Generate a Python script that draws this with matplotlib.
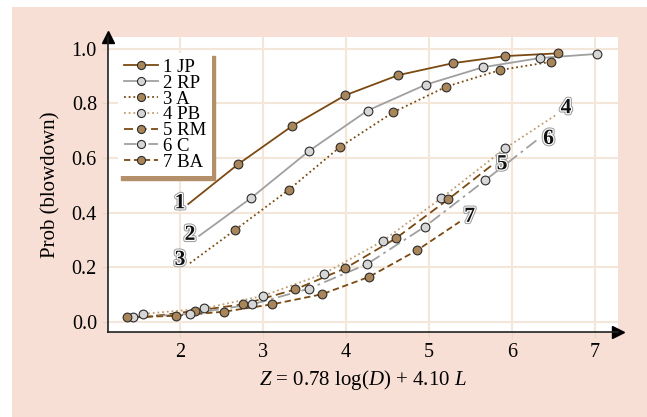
import matplotlib
matplotlib.use("Agg")
import matplotlib.pyplot as plt
import matplotlib.patheffects as pe
from matplotlib.lines import Line2D
from matplotlib.legend_handler import HandlerLine2D
from matplotlib.patches import Rectangle

plt.rcParams['font.family'] = ['Liberation Serif', 'DejaVu Serif']
plt.rcParams['mathtext.fontset'] = 'custom'
plt.rcParams['mathtext.rm'] = 'Liberation Serif'
plt.rcParams['mathtext.it'] = 'Liberation Serif:italic'

# values (Z, prob of blowdown)
# upper curves: first pair is where the fitted line starts (no dot)
jp_z = [2.10, 2.70, 3.35, 3.99, 4.63, 5.29, 5.92, 6.55]
jp_p = [0.431, 0.577, 0.717, 0.830, 0.904, 0.948, 0.974, 0.984]
rp_z = [2.23, 2.86, 3.56, 4.26, 4.96, 5.65, 6.34, 7.03]
rp_p = [0.314, 0.454, 0.627, 0.774, 0.869, 0.933, 0.967, 0.982]
a_z = [2.12, 2.66, 3.31, 3.93, 4.57, 5.21, 5.86, 6.47]
a_p = [0.214, 0.335, 0.483, 0.641, 0.768, 0.862, 0.923, 0.953]
# lower curves: last pair is where the fitted line ends (no dot)
pb_z = [1.56, 2.29, 3.00, 3.73, 4.44, 5.15, 5.92, 6.53]
pb_p = [0.028, 0.048, 0.094, 0.175, 0.295, 0.453, 0.636, 0.758]
rm_z = [1.55, 2.18, 2.76, 3.39, 3.99, 4.60, 5.23, 5.76]
rm_p = [0.015, 0.039, 0.063, 0.118, 0.195, 0.305, 0.448, 0.574]
c_z = [1.44, 2.12, 2.87, 3.55, 4.25, 4.95, 5.68, 6.30]
c_p = [0.015, 0.028, 0.063, 0.120, 0.210, 0.348, 0.519, 0.666]
ba_z = [1.36, 1.95, 2.53, 3.11, 3.71, 4.28, 4.86, 5.37]
ba_p = [0.015, 0.021, 0.036, 0.063, 0.100, 0.164, 0.262, 0.366]

names = ['1 JP', '2 RP', '3 A', '4 PB', '5 RM', '6 C', '7 BA']
tags = ['1', '2', '3', '4', '5', '6', '7']
tag_z = [2.00, 2.12, 2.00, 6.65, 5.88, 6.44, 5.49]
tag_p = [0.434, 0.318, 0.226, 0.783, 0.577, 0.670, 0.384]

dark = '#7b4a12'
grey = '#a0a0a0'
tan = '#c09e74'
dot_brown = '#a9855a'
dot_grey = '#d6d6d6'

series = [
    (jp_z, jp_p, dark, '-', dot_brown, slice(1, None)),
    (rp_z, rp_p, grey, '-', dot_grey, slice(1, None)),
    (a_z, a_p, dark, (0, (1, 1.6)), dot_brown, slice(1, None)),
    (pb_z, pb_p, tan, (0, (1, 1.6)), dot_grey, slice(0, -1)),
    (rm_z, rm_p, dark, (0, (5, 2.5)), dot_brown, slice(1, -1)),
    (c_z, c_p, grey, (0, (7, 2.5, 1.5, 2.5)), dot_grey, slice(0, -1)),
    (ba_z, ba_p, dark, (0, (3.5, 2)), dot_brown, slice(0, -1)),
]


class LeftMarker(HandlerLine2D):
    def get_xdata(self, legend, xdescent, ydescent, width, height, fontsize):
        return [-xdescent, -xdescent + width], [-xdescent]


fig = plt.figure(figsize=(6.47, 4.17), dpi=100)
fig.patches.append(Rectangle((12 / 647, 0), 1, 1 - 7 / 417, transform=fig.transFigure,
                             facecolor='#f8dfd5', edgecolor='none', zorder=-1))
ax = fig.add_axes([108 / 647, 1 - 332 / 417, 510 / 647, 295 / 417])
ax.set_facecolor('white')

handles = []
for (z, p, col, ls, mcol, mk), nm in zip(series, names):
    ax.plot(z, p, color=col, ls=ls, lw=1.3, zorder=3)
    ax.plot(z[mk], p[mk], 'o', ms=6.3, mfc=mcol, mec='#2b2b2b', mew=0.8, zorder=4)
    handles.append(Line2D([], [], color=col, ls=ls, lw=1.3, marker='o', ms=5.8,
                          mfc=mcol, mec='#2b2b2b', mew=0.8, label=nm))

halo = [pe.Stroke(linewidth=3.2, foreground='#9a9a9a'),
        pe.Stroke(linewidth=1.8, foreground='white'), pe.Normal()]
for t, z, p in zip(tags, tag_z, tag_p):
    ax.text(z, p, t, fontsize=15.5, fontweight='bold', ha='center', va='center',
            color='#111111', path_effects=halo, zorder=6)

ax.set_xlim(1.133, 7.277)
ax.set_ylim(-0.0385, 1.044)
ax.set_xticks([2, 3, 4, 5, 6, 7])
ax.set_yticks([0.0, 0.2, 0.4, 0.6, 0.8, 1.0])
ax.set_yticklabels(['0.0', '0.2', '0.4', '0.6', '0.8', '1.0'])
ax.grid(True, color='#f4e6d8', lw=1.5, zorder=0)
ax.set_axisbelow(True)
ax.tick_params(labelsize=14.5, color='#e8d6c8', length=4, width=1, pad=4)
for s in ['top', 'right']:
    ax.spines[s].set_visible(False)
for s in ['left', 'bottom']:
    ax.spines[s].set_color('#222222')
    ax.spines[s].set_linewidth(1.2)
ax.plot([0], [1.0], marker='^', ms=9, color='black', transform=ax.transAxes, clip_on=False)
ax.plot([1.0], [0], marker='>', ms=9, color='black', transform=ax.transAxes, clip_on=False)

ax.set_ylabel('Prob (blowdown)', fontsize=15, labelpad=8)
ax.set_xlabel(r'$Z$ = 0.78 log($D$) + 4.10 $L$', fontsize=15, labelpad=4)

leg = ax.legend(handles=handles, loc='upper left', bbox_to_anchor=(0.02, 0.945),
                borderaxespad=0, fontsize=13.5, labelspacing=-0.07, handlelength=1.8,
                handletextpad=0.3, borderpad=0.3, fancybox=False,
                handler_map={Line2D: LeftMarker()},
                shadow={'ox': 2.2, 'oy': -2.2, 'color': '#b39069', 'alpha': 1})
leg.get_frame().set_facecolor('white')
leg.get_frame().set_edgecolor('none')
leg.get_frame().set_alpha(1)
leg.set_zorder(7)

fig.savefig('out.png', dpi=100)
